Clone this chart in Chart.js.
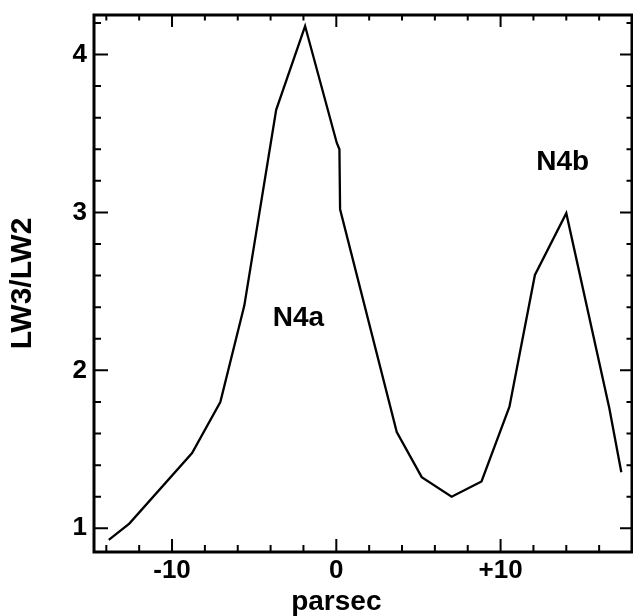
<!DOCTYPE html>
<html>
<head>
<meta charset="utf-8">
<script src="https://cdn.jsdelivr.net/npm/chart.js@4.4.0/dist/chart.umd.min.js"></script>
<style>
  html, body { margin: 0; padding: 0; background: #fff; }
  #wrap { width: 633px; height: 616px; position: relative; }
</style>
</head>
<body>
<div id="wrap"><canvas id="context"></canvas></div>
<script>
// LW3/LW2 ratio along the cut, offset in parsec
const parsec = [-13.85, -12.6, -8.78, -7.06, -5.6, -3.66, -1.9, 0.03, 0.19, 0.23, 3.68, 5.2, 7.02, 8.84, 10.54, 12.09, 14.0, 16.62, 17.35];
const ratio = [0.927, 1.03, 1.477, 1.80, 2.41, 3.65, 4.18, 3.44, 3.40, 3.02, 1.61, 1.324, 1.20, 1.297, 1.77, 2.604, 2.995, 1.76, 1.355];

const xTickValues = [-10, 0, 10];
const xTickLabels = ['-10', '0', '+10'];
const yTickValues = [1, 2, 3, 4];
const yTickLabels = ['1', '2', '3', '4'];

// source names and where they sit (data coords)
const sourceNames = ['N4a', 'N4b'];
const sourceX = [-2.31, 13.78];
const sourceY = [2.33, 3.32];

const FONT = '"Liberation Sans", Arial, sans-serif';
Chart.defaults.font.family = FONT;
Chart.defaults.font.weight = 'bold';
Chart.defaults.color = '#000';

// box round the plot with inward ticks on all four sides, plus the text labels
const frameTicks = {
  id: 'frameTicks',
  afterDraw(chart) {
    const ctx = chart.ctx;
    const a = chart.chartArea;
    const xs = chart.scales.x;
    const ys = chart.scales.y;
    ctx.save();
    ctx.strokeStyle = '#000';
    ctx.lineWidth = 2;
    ctx.beginPath();
    for (let v = Math.ceil(xs.min / 2) * 2; v < xs.max - 0.01; v += 2) {
      const px = xs.getPixelForValue(v);
      const major = xTickValues.includes(v);
      ctx.moveTo(px, a.bottom);
      ctx.lineTo(px, a.bottom - (major ? 13 : 7));
      ctx.moveTo(px, a.top);
      ctx.lineTo(px, a.top + (major ? 12 : 5.5));
    }
    for (let k = Math.ceil(ys.min * 5); k / 5 < ys.max - 0.01; k++) {
      const py = ys.getPixelForValue(k / 5);
      const major = k % 5 == 0;
      ctx.moveTo(a.left, py);
      ctx.lineTo(a.left + (major ? 14 : 7), py);
      ctx.moveTo(a.right, py);
      ctx.lineTo(a.right - (major ? 12 : 5.5), py);
    }
    ctx.stroke();
    ctx.lineWidth = 3;
    ctx.strokeRect(a.left, a.top, a.right - a.left, a.bottom - a.top);

    ctx.fillStyle = '#000';
    ctx.font = 'bold 28px ' + FONT;
    ctx.textAlign = 'center';
    ctx.textBaseline = 'middle';
    for (let i = 0; i < sourceNames.length; i++) {
      ctx.fillText(sourceNames[i], xs.getPixelForValue(sourceX[i]), ys.getPixelForValue(sourceY[i]));
    }
    // x axis title, centred under the zero tick
    ctx.textBaseline = 'alphabetic';
    ctx.fillText('parsec', xs.getPixelForValue(0), 610);
    ctx.restore();
  }
};

const ctx = document.getElementById('context');
new Chart(ctx, {
  type: 'line',
  data: {
    datasets: [{
      data: parsec.map((x, i) => ({x: x, y: ratio[i]})),
      borderColor: '#000',
      borderWidth: 2.3,
      pointRadius: 0,
      tension: 0,
      fill: false
    }]
  },
  options: {
    responsive: true,
    maintainAspectRatio: false,
    animation: false,
    layout: { padding: { left: 0, top: 15, right: 1, bottom: 0 } },
    plugins: { legend: { display: false }, tooltip: { enabled: false } },
    scales: {
      x: {
        type: 'linear',
        min: -14.75,
        max: 18,
        grid: { display: false, drawTicks: false },
        border: { display: false },
        afterBuildTicks: (s) => { s.ticks = xTickValues.map(v => ({value: v})); },
        afterFit: (s) => { s.height = 64; s.paddingLeft = 0; s.paddingRight = 0; },
        ticks: {
          font: { size: 26, weight: 'bold' },
          padding: 3,
          maxRotation: 0,
          callback: (v) => xTickLabels[xTickValues.indexOf(v)]
        }
      },
      y: {
        min: 0.85,
        max: 4.25,
        grid: { display: false, drawTicks: false },
        border: { display: false },
        afterBuildTicks: (s) => { s.ticks = yTickValues.map(v => ({value: v})); },
        afterFit: (s) => { s.width = 94; s.paddingTop = 0; s.paddingBottom = 0; },
        ticks: {
          font: { size: 26, weight: 'bold' },
          padding: 7,
          callback: (v) => yTickLabels[yTickValues.indexOf(v)]
        },
        title: {
          display: true,
          text: 'LW3/LW2',
          font: { size: 30, weight: 'bold' },
          padding: { top: 5, bottom: 0 }
        }
      }
    }
  },
  plugins: [frameTicks]
});
</script>
</body>
</html>
